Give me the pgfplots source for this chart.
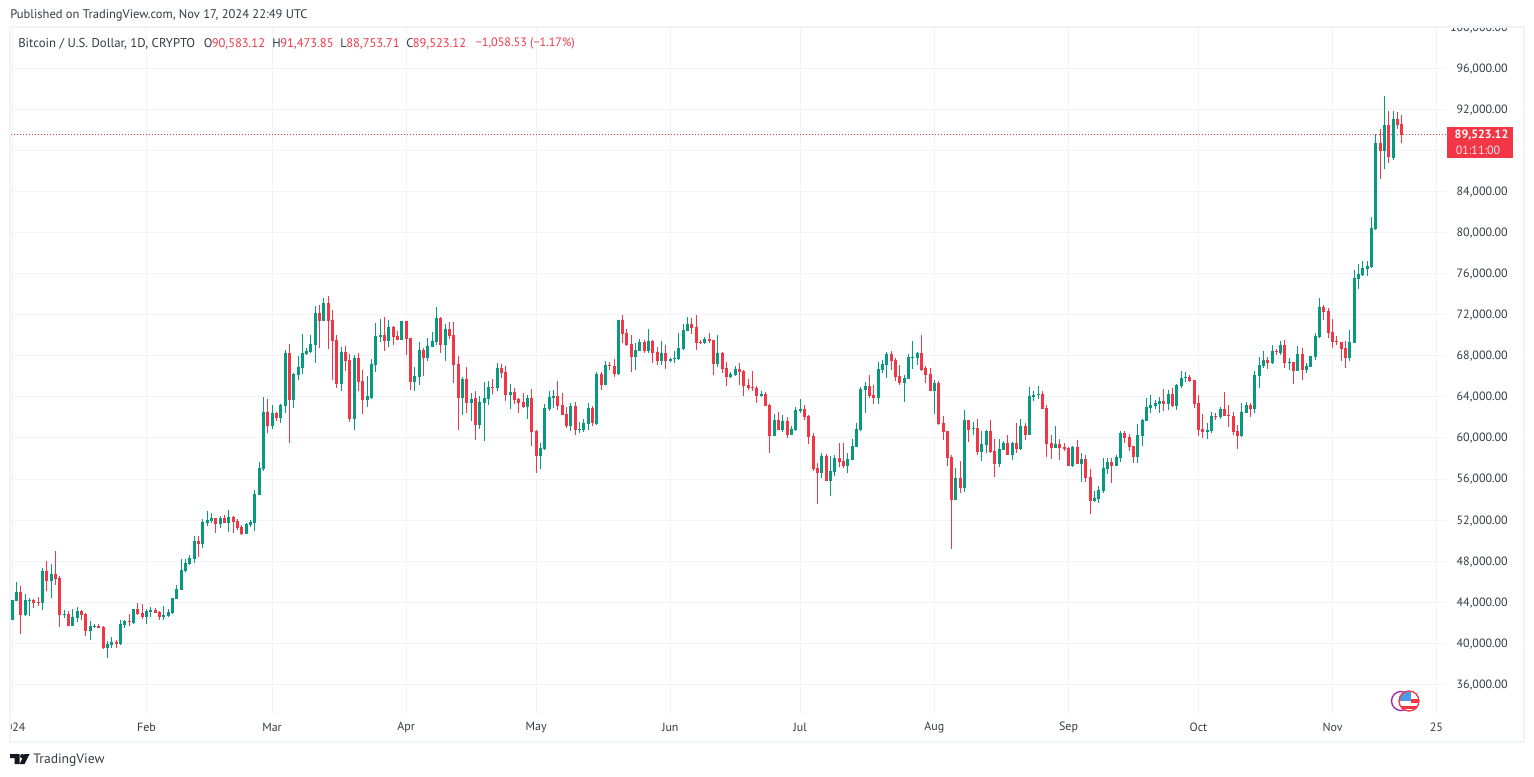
\documentclass[border=0pt]{standalone}
\usepackage{fontspec}
\setmainfont{PT Sans}
\usepackage{pgfplots}
\usepackage{pgfplotstable}
\pgfplotsset{compat=1.18}
\definecolor{up}{HTML}{089981}
\definecolor{down}{HTML}{F23645}
\definecolor{gridc}{HTML}{F2F3F7}
\definecolor{framec}{HTML}{F0F3FA}
\definecolor{txt}{HTML}{363A45}
\definecolor{tvblack}{HTML}{131722}
\definecolor{flagblue}{HTML}{4A9BE8}
\definecolor{ringp}{HTML}{9C27B0}

% BTCUSD daily candles, day 0 = 1 Jan 2024
\pgfplotstableread{
d o h l c
0 42280 44227 42280 44227
1 44130 45979 44130 45006
2 45006 45590 40917 42767
3 42767 44811 42669 44227
4 44130 44422 42669 44227
5 44227 44324 43448 43935
6 44032 44519 43643 43935
7 43935 47342 43253 47050
8 47050 48024 45103 46077
9 46077 47732 44422 46758
10 46758 48997 45687 46271
11 46369 46563 41599 42767
12 42767 43253 42475 42864
13 42864 43156 41696 41696
14 41696 43351 41696 42572
15 42475 43546 42085 43156
16 43156 43253 42280 42767
17 42864 42961 40722 41209
18 41209 42183 40333 41696
19 41599 41891 41501 41696
20 41696 41891 41501 41501
21 41599 41696 39457 39554
22 39554 40236 38581 39944
23 39846 40625 39554 40138
24 40138 40333 39554 39944
25 39944 42280 39846 41891
26 41793 42280 41501 42183
27 42183 42864 41696 42085
28 41988 43351 41891 43351
29 43351 43935 42767 42864
30 42961 43838 42377 42572
31 42572 43351 41891 43156
32 43059 43546 42572 43253
33 43253 43448 42961 42961
34 43059 43156 42280 42572
35 42572 43643 42280 42767
36 42669 43351 42572 43059
37 42961 44422 42864 44422
38 44324 45687 44324 45298
39 45200 48218 45200 47147
40 47050 48218 46953 47829
41 47732 48608 47634 48316
42 48218 50457 47829 49971
43 49971 50457 48413 49679
44 49679 52112 49289 51820
45 51723 52891 51431 52015
46 51918 52696 51723 52210
47 52210 52210 50749 51626
48 51626 52404 51236 52210
49 52210 52502 51723 51723
50 51723 52988 50847 52307
51 52307 52404 50749 51820
52 51918 52112 51041 51236
53 51334 51528 50555 50652
54 50652 51723 50652 51626
55 51528 52015 51334 51820
56 51723 54935 50944 54546
57 54483 57696 54483 57112
58 57014 64024 56820 62563
59 62563 63829 60519 61200
60 61200 63245 60908 62466
61 62466 62563 61687 61979
62 61979 63342 61492 63245
63 63147 68599 62466 68307
64 68307 69183 59545 63731
65 63731 66327 62953 66263
66 66165 68015 65678 66944
67 66847 70157 66263 68307
68 68210 68794 68112 68502
69 68404 70059 68307 69183
70 69086 72882 67333 72201
71 72201 72980 68794 71422
72 71422 73661 71422 73174
73 73174 73856 68696 71422
74 71519 72493 65678 69475
75 69572 70059 64900 65289
76 65289 68891 64608 68404
77 68404 68988 66555 67528
78 67625 68210 61590 61882
79 61882 68112 60811 67820
80 67820 68307 64608 65484
81 65581 66652 62369 63731
82 63731 66068 63050 64121
83 63926 67723 63829 67236
84 67139 71227 66457 69962
85 69865 71617 69378 70059
86 70059 71812 68502 69475
87 69475 71519 68891 70838
88 70838 70935 69086 69865
89 69962 70449 69572 69572
90 69572 71422 69572 71422
91 71422 71422 68112 69670
92 69767 69767 64705 65484
93 65484 66944 64608 66068
94 65971 69378 65192 68599
95 68599 68794 66068 67820
96 67820 69767 67528 68988
97 68891 70351 68891 69475
98 69378 72785 69086 71714
99 71715 71812 68307 69086
100 69086 71131 67529 70644
101 70644 71325 69670 69962
102 70060 71325 65387 67139
103 67237 68015 60811 63927
104 63927 65971 62272 65776
105 65776 66945 62466 63440
106 63440 64413 61688 63829
107 63927 64608 59838 61298
108 61298 64121 60909 63537
109 63440 65484 59741 63927
110 63829 65582 63245 64998
111 64998 65776 64316 64933
112 64900 67334 64608 66847
113 66847 67237 65874 66360
114 66458 67042 63635 64219
115 64219 65290 62856 64511
116 64511 64900 63343 63732
117 63829 63927 62466 63440
118 63537 64413 62953 63051
119 63051 64219 61882 63927
120 63927 64803 59254 60617
121 60714 60811 56625 58280
122 58280 59546 57015 59059
123 58962 63343 58864 62953
124 62856 64608 62661 64024
125 63927 64705 62953 64121
126 64121 65582 62758 63148
127 63245 64413 62272 62272
128 62369 63051 61006 61201
129 61201 63440 60714 63148
130 63148 63537 60325 60811
131 60811 61590 60519 60909
132 60811 61882 60617 61493
133 61396 63440 60811 62953
134 62953 63148 61201 61493
135 61396 66458 61298 66263
136 66263 66458 64705 65192
137 65192 67529 65192 67139
138 67139 67431 66652 67042
139 67042 67723 65971 66263
140 66263 71520 66166 71520
141 71520 72006 69280 70157
142 70254 70643 68988 69086
143 69183 70059 66457 67918
144 67918 69280 66652 68599
145 68502 69670 68502 69378
146 69378 69572 68307 68502
147 68502 70643 68307 69475
148 69475 69572 67333 68307
149 68404 68891 67139 67528
150 67528 69475 67139 68307
151 68307 69086 66749 67528
152 67528 67820 67431 67723
153 67723 68502 67333 67820
154 67723 70254 67625 68794
155 68696 71130 68599 70546
156 70449 71812 70449 71130
157 71130 71714 70157 70741
158 70838 72006 68599 69280
159 69378 69572 69183 69280
160 69280 69865 69183 69670
161 69670 70254 69280 69475
162 69572 69572 66165 67236
163 67236 70059 66944 68307
164 68307 68404 66360 66749
165 66847 67431 65094 65971
166 65971 66457 65873 66263
167 66165 67041 66068 66749
168 66749 67333 65192 66457
169 66555 66652 64121 65094
170 65192 65776 64705 64900
171 64997 66555 64608 64900
172 64900 65094 63439 64121
173 64121 64608 64024 64316
174 64316 64510 63147 63147
175 63245 63342 58572 60227
176 60227 62369 60227 61784
177 61784 62563 60811 60811
178 60811 62271 60616 61687
179 61687 62077 60032 60324
180 60324 61200 60324 60908
181 60811 63050 60714 62758
182 62661 63829 62466 62855
183 62855 63245 61784 62077
184 62174 62271 59448 60130
185 60227 60519 56820 57014
186 57112 57598 53607 56625
187 56625 58572 56138 58280
188 58280 58475 55846 55846
189 55846 58280 54386 56820
190 56722 58377 56333 58085
191 58085 59545 57209 57696
192 57793 59545 57112 57306
193 57306 58572 56625 57988
194 57890 59935 57890 59253
195 59156 61492 59156 60908
196 60811 64997 60714 64802
197 64705 65484 62466 65094
198 65094 66165 63926 64121
199 64218 65192 63342 63926
200 63926 67431 63342 66749
201 66652 67625 66360 67236
202 67139 68404 65873 68210
203 68210 68502 66652 67528
204 67625 67820 65581 65971
205 66068 67139 65192 65386
206 65386 66165 63537 65873
207 65776 68210 65776 67918
208 67820 69475 66749 67918
209 67820 68404 67139 68307
210 68307 70059 66555 66652
211 66847 67041 65386 66165
212 66263 66847 64608 64608
213 64608 65678 62369 65386
214 65386 65581 61298 61395
215 61492 62174 59837 60616
216 60714 60714 57306 58085
217 58183 58377 49226 53996
218 53996 57112 53996 56138
219 56138 57793 54678 55165
220 55165 62758 54775 61784
221 61784 61784 59643 60811
222 60908 61590 60324 61006
223 61006 61882 58377 58669
224 58669 60714 57793 59448
225 59351 60811 58572 60714
226 60714 61784 58572 58669
227 58767 59935 56236 57501
228 57501 59935 57209 58961
229 58864 59740 58864 59545
230 59545 60324 58377 58377
231 58377 59643 57890 59545
232 59545 61492 58572 58961
233 58961 61882 58864 61200
234 61200 61492 59837 60324
235 60324 64997 60324 64121
236 64024 64608 63634 64218
237 64218 65094 63829 64316
238 64316 64608 62855 62855
239 62953 63245 58183 59448
240 59545 60324 57988 59059
241 59059 61200 59059 59448
242 59448 59935 57890 59059
243 59156 59545 58767 58961
244 59059 59156 57306 57306
245 57306 59253 57209 59156
246 59156 59837 57501 57501
247 57501 58572 55749 57988
248 57988 58377 55749 56138
249 56236 57014 52634 53899
250 53899 54873 53802 54191
251 54094 55359 53704 54970
252 54873 58085 54678 57112
253 57014 58085 56528 57696
254 57696 58085 55651 57306
255 57306 58377 57306 58183
256 58085 60714 57696 60519
257 60519 60714 59545 60032
258 60130 60422 58767 59156
259 59253 59253 57598 58183
260 58183 61395 57598 60324
261 60227 61882 59253 61784
262 61687 63926 61687 63050
263 62953 64218 62466 63245
264 63147 63731 62855 63439
265 63342 64024 62466 63634
266 63634 64802 62661 63342
267 63342 64705 62758 64316
268 64316 64900 63050 63147
269 63147 65289 62758 65192
270 65094 66555 64900 65873
271 65873 66457 65484 65971
272 65971 66165 65484 65581
273 65678 65678 62953 63342
274 63439 64218 60227 60811
275 60908 62369 60032 60616
276 60616 61492 59935 60811
277 60714 62563 60519 62174
278 62174 62466 61784 62077
279 62077 63050 61882 62855
280 62855 64510 62174 62174
281 62271 63245 61103 62174
282 62174 62563 60324 60616
283 60714 61298 58961 60227
284 60227 63439 60130 62563
285 62466 63537 62466 63245
286 63245 63439 62077 62855
287 62855 66555 62466 66165
288 66068 67918 64900 67139
289 67041 68502 66847 67625
290 67625 67918 66749 67333
291 67333 69086 67236 68502
292 68502 68696 68112 68404
293 68307 69475 68112 69086
294 69086 69572 66847 67333
295 67333 67820 66652 67431
296 67431 67431 65289 66555
297 66555 68988 66555 68210
298 68210 68794 65678 66652
299 66652 67333 66360 67041
300 66944 68015 66944 68015
301 67918 70254 67625 69962
302 69865 73661 69767 72785
303 72785 72980 71519 72298
304 72396 72688 69767 70254
305 70351 71617 68794 69378
306 69475 69962 69086 69378
307 69378 69378 67528 68696
308 68794 69475 66847 67820
309 67820 70546 67528 69378
310 69280 76333 69280 75554
311 75457 76917 74483 75944
312 75846 77209 75749 76528
313 76430 77209 75749 76722
314 76625 81493 76528 80422
315 80324 89573 80227 88696
316 88696 90059 85192 87918
317 87918 93272 86165 90449
318 90449 91812 86749 87334
319 87236 91812 87041 91033
320 91033 91714 90059 90449
321 90583.12 91473.85 88753.71 89523.12
}\candles

\pgfplotsset{candle/.style={only marks, mark=*, mark size=0pt, mark options={draw=none, fill=none}}}

\begin{document}
\begin{tikzpicture}
\path[use as bounding box] (0,0) rectangle (1150.5pt,-582.75pt);
\begin{axis}[
  at={(8.25pt,-535.5pt)}, anchor=south west,
  scale only axis, width=1076.25pt, height=516pt,
  xmin=-0.30, xmax=331.2, ymin=33128, ymax=100111,
  axis line style={draw=none}, tick style={draw=none},
  xtick={0,31,60,91,121,152,182,213,244,274,305,329},
  xticklabels={2024,Feb,Mar,Apr,May,Jun,Jul,Aug,Sep,Oct,Nov,25},
  % 88,000 sits behind the price tag: gridline only
  ytick={36000,40000,44000,48000,52000,56000,60000,64000,68000,72000,76000,80000,84000,92000,96000,100000},
  extra y ticks={88000}, extra y tick labels={},
  yticklabel pos=right,
  grid=major, major grid style={gridc, line width=0.75pt},
  /pgf/number format/.cd, assume math mode=true, fixed, fixed zerofill, precision=2, 1000 sep={,},
  /pgfplots/.cd,
  scaled y ticks=false,
  ticklabel style={font=\fontsize{9pt}{11pt}\selectfont, text=txt},
  x tick label style={anchor=center, yshift=-10.25pt, inner sep=0pt},
  y tick label style={anchor=east, xshift=46.5pt, yshift=-0.4pt, inner sep=0pt},
  error bars/error mark=none,
]
% last price line
\addplot[down, line width=0.75pt, dash pattern=on 0.75pt off 1.5pt] coordinates {(-1,89523.12) (332,89523.12)};
% wicks
\addplot[candle, x filter/.expression={\thisrow{c}>=\thisrow{o} ? x : nan},
  error bars/.cd, y dir=both, y explicit, error bar style={up, line width=0.75pt}]
  table[x=d, y=c, y error plus expr=\thisrow{h}-\thisrow{c}, y error minus expr=\thisrow{c}-\thisrow{l}] {\candles};
\addplot[candle, x filter/.expression={\thisrow{c}<\thisrow{o} ? x : nan},
  error bars/.cd, y dir=both, y explicit, error bar style={down, line width=0.75pt}]
  table[x=d, y=c, y error plus expr=\thisrow{h}-\thisrow{c}, y error minus expr=\thisrow{c}-\thisrow{l}] {\candles};
% bodies
\addplot[candle, x filter/.expression={\thisrow{c}>=\thisrow{o} ? x : nan},
  error bars/.cd, y dir=minus, y explicit, error bar style={up, line width=2.25pt}]
  table[x=d, y=c, y error minus expr=\thisrow{c}-\thisrow{o}] {\candles};
\addplot[candle, x filter/.expression={\thisrow{c}<\thisrow{o} ? x : nan},
  error bars/.cd, y dir=plus, y explicit, error bar style={down, line width=2.25pt}]
  table[x=d, y=c, y error plus expr=\thisrow{o}-\thisrow{c}] {\candles};
\end{axis}

% everything else is placed in reference pixels
\begin{scope}[x=0.75pt, y=-0.75pt, every node/.style={inner sep=0pt, font=\fontsize{9pt}{11pt}\selectfont}]
\fill[white] (0,0) rectangle (1534,26.5);
\fill[white] (0,0) rectangle (9.5,777);
\draw[framec, line width=1.5pt] (10,27.5) rectangle (1523.5,742);

\node[anchor=west, text=txt, font=\fontsize{9.4pt}{11pt}\selectfont] at (10,15.5) {Published on TradingView.com, Nov 17, 2024 22:49 UTC};
\node[anchor=west, text=txt, font=\fontsize{9.6pt}{11pt}\selectfont] at (18,43.5) {Bitcoin / U.S. Dollar, 1D, CRYPTO};
\begin{scope}[every node/.style={inner sep=0pt, anchor=west, font=\fontsize{9.4pt}{11pt}\selectfont}]
\node[text=txt] at (203.5,43.5) {O};
\node[text=down] at (211.5,43.5) {90,583.12};
\node[text=txt] at (272,43.5) {H};
\node[text=down] at (280,43.5) {91,473.85};
\node[text=txt] at (340,43.5) {L};
\node[text=down] at (346,43.5) {88,753.71};
\node[text=txt] at (406,43.5) {C};
\node[text=down] at (412.5,43.5) {89,523.12};
\node[text=down, font=\fontsize{9.1pt}{11pt}\selectfont] at (475.5,43.5) {−1,058.53 (−1.17\%)};
\end{scope}

% last price tag
\fill[down] (1447,127) rectangle (1513,158);
\node[text=white, font=\fontsize{9pt}{10pt}\selectfont\bfseries] at (1481.5,135.5) {89,523.12};
\node[text=white!85!down, font=\fontsize{9pt}{10pt}\selectfont] at (1478,150.5) {01:11:00};

% event badges
\draw[ringp, line width=1pt, fill=white] (1401,701) circle (9.5);
\begin{scope}
\clip (1409,701) circle (10);
\fill[white] (1399,691) rectangle (1419,711);
\fill[flagblue] (1399,691) rectangle (1411,701);
\fill[down] (1411,698.5) rectangle (1419,703);
\fill[down] (1399,706) rectangle (1419,709);
\end{scope}
\draw[down, line width=1pt] (1409,701) circle (10);

% logo
\fill[tvblack] (10,754) -- (19.5,754) -- (19.5,764) -- (14.5,764) -- (14.5,758) -- (10,758) -- cycle;
\fill[tvblack] (22.3,756.2) circle (2.2);
\fill[tvblack] (24.5,754) -- (29.5,754) -- (24.5,764) -- (19.5,764) -- cycle;
\node[anchor=west, text=txt, font=\fontsize{10.2pt}{12pt}\selectfont] at (33,760.5) {TradingView};
\end{scope}
\end{tikzpicture}
\end{document}
